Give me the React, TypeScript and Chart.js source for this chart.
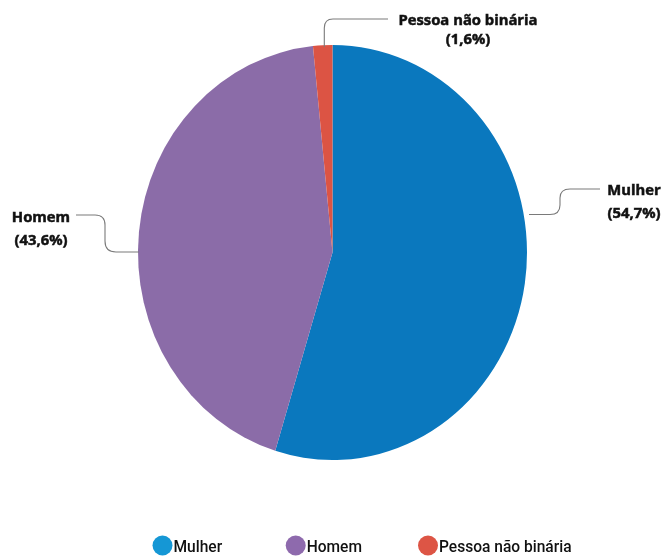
import React, { useEffect, useRef } from "react";
import { Chart, registerables } from "chart.js";
Chart.register(...registerables);

const categories = ["Mulher", "Homem", "Pessoa não binária"];
const values = [54.7, 43.6, 1.6];
const sliceColors = ["#0a78be", "#8b6ca8", "#dc5444"];
const legendColors = ["#1597d5", "#8e6aad", "#dd5545"];

const fmtPct = (v: number) => `(${v.toFixed(1).replace(".", ",")}%)`;

// pie is slightly taller than wide in the reference
const Y_STRETCH = 207.5 / 194.5;

const ellipsePlugin = {
  id: "ellipse",
  beforeDatasetsDraw(chart: any) {
    const arc = chart.getDatasetMeta(0).data[0];
    const ctx = chart.ctx;
    ctx.save();
    ctx.translate(arc.x, arc.y);
    ctx.scale(1, Y_STRETCH);
    ctx.translate(-arc.x, -arc.y);
  },
  afterDatasetsDraw(chart: any) {
    chart.ctx.restore();
  },
};

// callout geometry (annotation layout)
const callouts = [
  {
    path: (c: CanvasRenderingContext2D) => {
      c.moveTo(529, 214.5);
      c.lineTo(550, 214.5);
      c.quadraticCurveTo(560, 214.5, 560, 205);
      c.lineTo(560, 198);
      c.quadraticCurveTo(560, 189, 570, 189);
      c.lineTo(600, 189);
    },
    x: 634,
    y: [195, 218],
  },
  {
    path: (c: CanvasRenderingContext2D) => {
      c.moveTo(76, 215);
      c.lineTo(95, 215);
      c.quadraticCurveTo(105, 215, 105, 225);
      c.lineTo(105, 241);
      c.quadraticCurveTo(105, 252, 116, 252);
      c.lineTo(139, 252);
    },
    x: 41,
    y: [222, 245],
  },
  {
    path: (c: CanvasRenderingContext2D) => {
      c.moveTo(324.3, 47);
      c.lineTo(324.3, 28);
      c.quadraticCurveTo(324.3, 19, 333, 19);
      c.lineTo(388, 19);
    },
    x: 468,
    y: [25, 44],
  },
];

const legendCenters = [162.5, 295.7, 428];

const labelsPlugin = {
  id: "callouts",
  afterDraw(chart: any) {
    const ctx: CanvasRenderingContext2D = chart.ctx;
    const labels = chart.data.labels as string[];
    const data = chart.data.datasets[0].data as number[];
    ctx.save();
    callouts.forEach((co, i) => {
      ctx.beginPath();
      co.path(ctx);
      ctx.strokeStyle = "#7a7a7a";
      ctx.lineWidth = 1.1;
      ctx.stroke();
      ctx.fillStyle = "#111";
      ctx.strokeStyle = "#111";
      ctx.lineWidth = 0.5;
      ctx.font = "700 14.8px 'Open Sans'";
      ctx.textAlign = "center";
      ctx.textBaseline = "alphabetic";
      const lines = [labels[i], fmtPct(data[i])];
      lines.forEach((t, k) => {
        ctx.fillText(t, co.x, co.y[k]);
        ctx.strokeText(t, co.x, co.y[k]);
      });
    });
    // legend
    const ly = 545.5;
    labels.forEach((lab, i) => {
      const cx = legendCenters[i];
      ctx.beginPath();
      ctx.arc(cx, ly, 10, 0, Math.PI * 2);
      ctx.fillStyle = legendColors[i];
      ctx.fill();
      ctx.save();
      ctx.translate(cx + 11, 0);
      ctx.scale(0.9, 1);
      ctx.fillStyle = "#111";
      ctx.font = "500 17.3px Roboto";
      ctx.textAlign = "left";
      ctx.textBaseline = "alphabetic";
      ctx.fillText(lab, 0, 551.5);
      ctx.restore();
    });
    ctx.restore();
  },
};

export default function App() {
  const ref = useRef<HTMLCanvasElement | null>(null);
  useEffect(() => {
    if (!ref.current) return;
    const chart = new Chart(ref.current, {
      type: "pie",
      data: {
        labels: categories,
        datasets: [
          {
            data: values,
            backgroundColor: sliceColors,
            borderWidth: 0,
          },
        ],
      },
      options: {
        animation: false,
        responsive: true,
        maintainAspectRatio: false,
        layout: { padding: { left: 138, right: 139, top: 58, bottom: 109 } },
        plugins: {
          legend: { display: false },
          tooltip: { enabled: false },
        },
      },
      plugins: [ellipsePlugin, labelsPlugin],
    });
    return () => chart.destroy();
  }, []);
  return (
    <div style={{ position: "fixed", left: 0, top: 0, width: 666, height: 556, background: "#fff" }}>
      <canvas ref={ref} />
    </div>
  );
}
